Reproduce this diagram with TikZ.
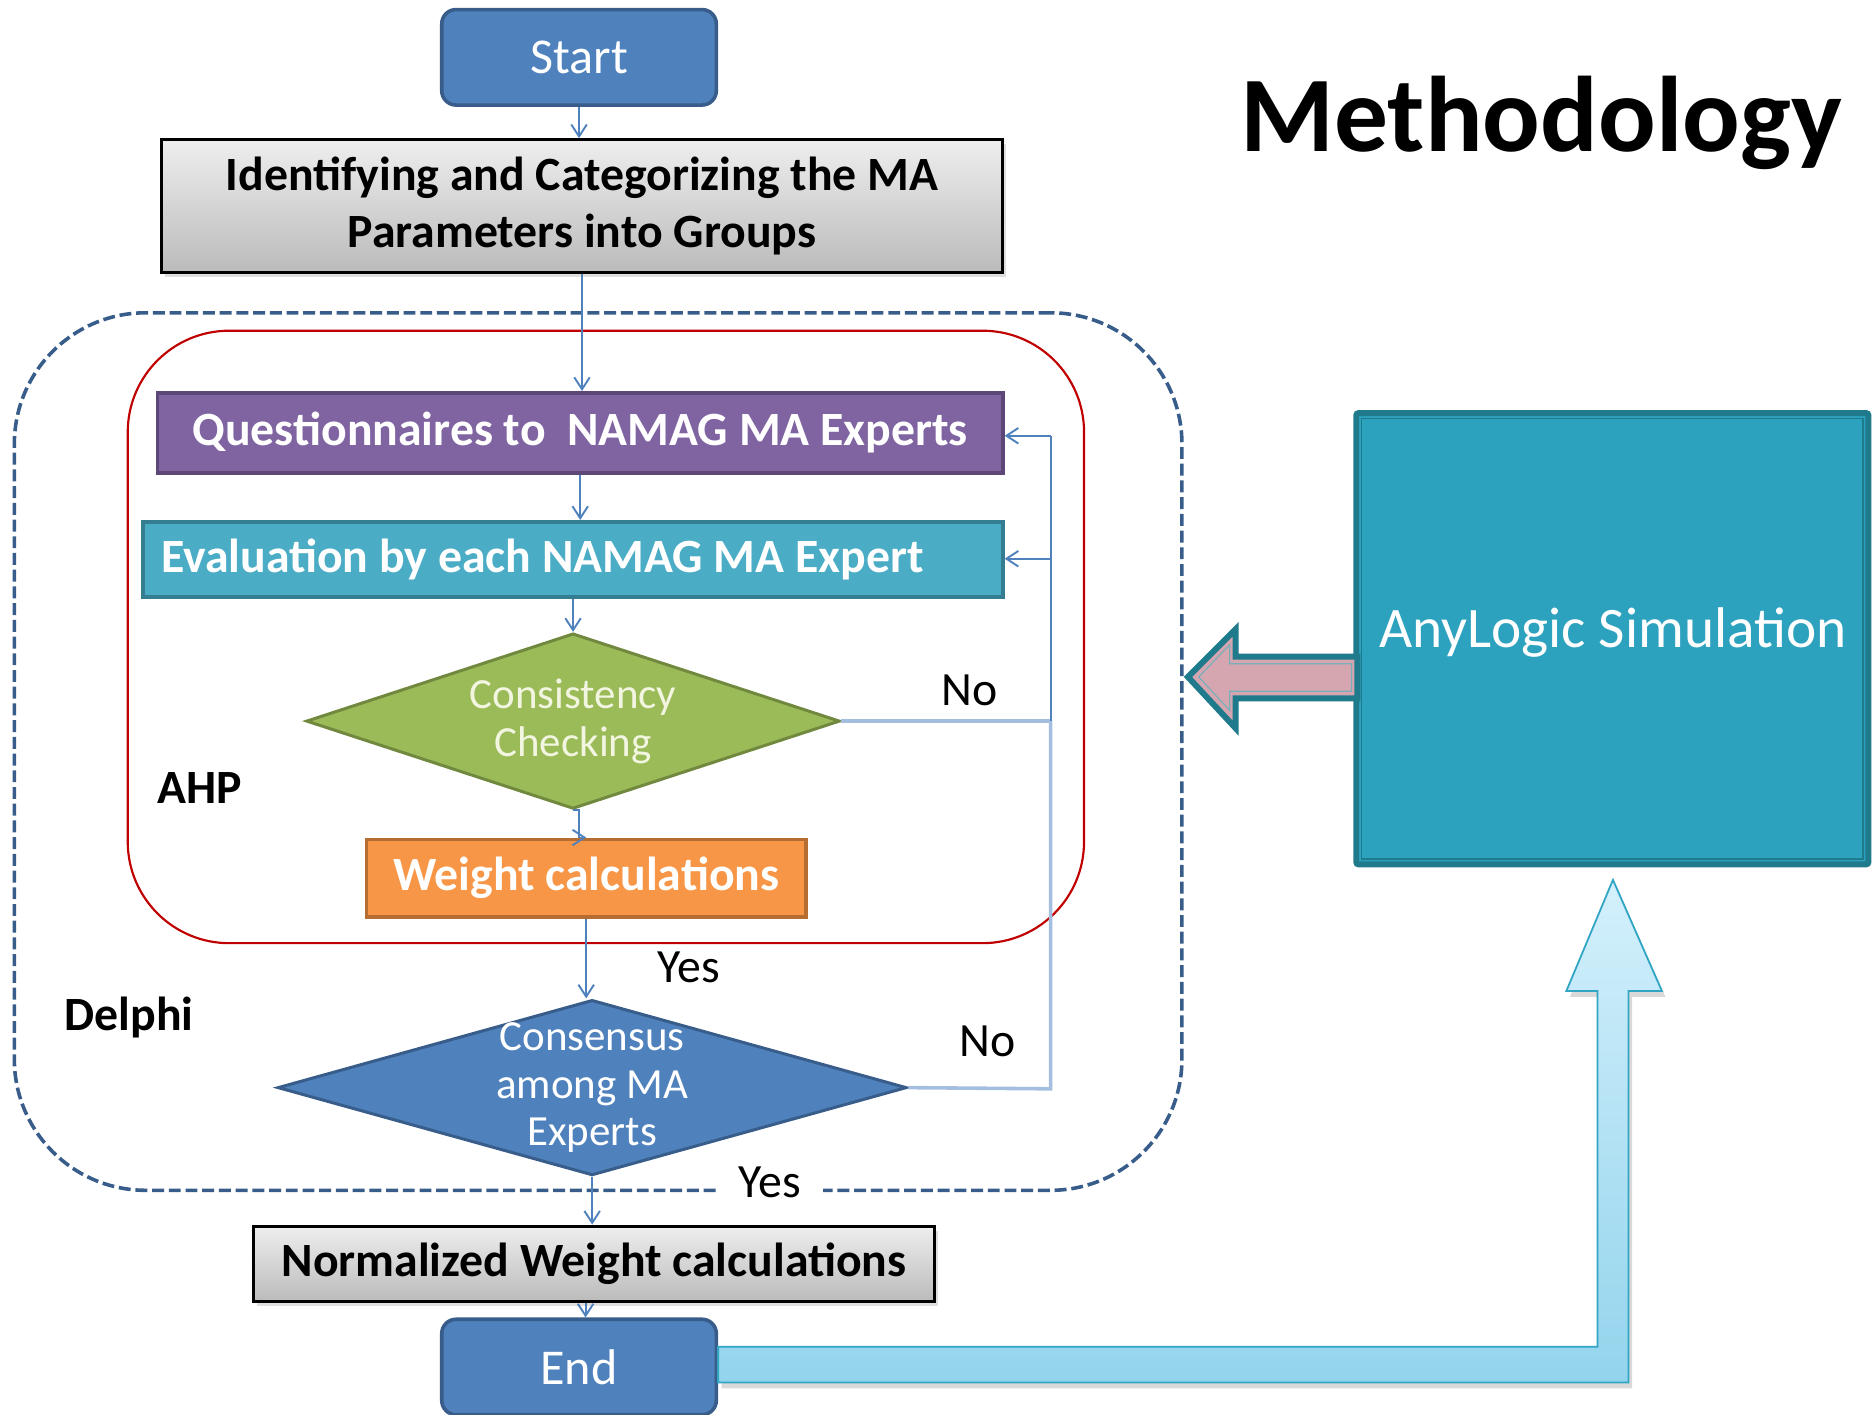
\documentclass[tikz,border=0pt]{standalone}
\usepackage{fontspec}
\setmainfont{Carlito}
\usetikzlibrary{arrows.meta,shapes.geometric,shadows,calc}
\definecolor{blueF}{HTML}{4F81BD}
\definecolor{blueD}{HTML}{385D8A}
\definecolor{purpleF}{HTML}{8064A2}
\definecolor{purpleD}{HTML}{5C4776}
\definecolor{aquaF}{HTML}{4BACC6}
\definecolor{aquaD}{HTML}{357D91}
\definecolor{greenF}{HTML}{9BBB59}
\definecolor{greenD}{HTML}{71893F}
\definecolor{orangeF}{HTML}{F79646}
\definecolor{orangeD}{HTML}{B66D31}
\definecolor{tealF}{HTML}{2DA2BF}
\definecolor{tealD}{HTML}{1F7A8C}
\definecolor{pinkF}{HTML}{D5A6B0}
\definecolor{lightT}{HTML}{D4F0FC}
\definecolor{lightB}{HTML}{93D4EC}
\definecolor{lightD}{HTML}{31A5C4}
\definecolor{fbL}{HTML}{A3BEDF}
\definecolor{redL}{HTML}{C00000}
\definecolor{grayT}{HTML}{EEEEEE}
\definecolor{grayB}{HTML}{BBBBBB}
\definecolor{consT}{HTML}{F2F5DF}
\begin{document}
\begin{tikzpicture}[x=1pt,y=-1pt,
  conn/.style={draw=blueF, line width=1.6pt, -{Straight Barb[length=10pt,width=13pt]}},
  fblight/.style={draw=fbL, line width=3pt},
  terminal/.style={rounded corners=12pt, fill=blueF, draw=blueD, line width=3pt,
    minimum width=230pt, minimum height=80pt, inner sep=0pt, text=white,
    font=\fontsize{42}{50}\selectfont},
  proc/.style={draw, line width=3pt, inner sep=0pt, text=white,
    font=\fontsize{40}{48}\selectfont\bfseries},
  graybox/.style={draw=black, line width=2.5pt, top color=grayT, bottom color=grayB,
    inner sep=0pt, text=black, align=center,
    font=\fontsize{40}{48}\selectfont\bfseries,
    drop shadow={shadow xshift=3pt, shadow yshift=-4pt, opacity=0.25}},
  dia/.style={diamond, line width=2.5pt, inner sep=0pt},
  dtext/.style={align=center, font=\fontsize{36}{40}\selectfont, inner sep=0pt},
  lbl/.style={font=\fontsize{40}{48}\selectfont, inner sep=2pt, text=black},
  blbl/.style={font=\fontsize{40}{48}\selectfont\bfseries, inner sep=2pt, text=black}
]
\useasboundingbox (0,0) rectangle (1568,1185);

% frames
\node[draw=blueD, line width=3pt, dash pattern=on 10pt off 4pt, rounded corners=110pt,
  minimum width=978pt, minimum height=735pt, inner sep=0pt] (delphibox) at (501,629.5) {};
\node[draw=redL, line width=1.8pt, rounded corners=85pt,
  minimum width=801pt, minimum height=513pt, inner sep=0pt] (ahpbox) at (507.5,533.5) {};

% title
\node[font=\fontsize{90}{100}\selectfont\bfseries, inner sep=0pt] (title) at (1291,103) {Methodology};

% main nodes
\node[terminal] (start) at (485,48) {Start};
\node[graybox, minimum width=705pt, minimum height=111pt] (ident) at (487.5,172.5)
  {Identifying and Categorizing the MA\\Parameters into Groups};
\node[proc, fill=purpleF, draw=purpleD, minimum width=708pt, minimum height=67pt] (quest) at (486,362.5)
  {Questionnaires to~~NAMAG MA Experts};
\node[proc, fill=aquaF, draw=aquaD, minimum width=720pt, minimum height=63pt] (eval) at (480,468.5)
  {\makebox[690pt][l]{Evaluation by each NAMAG MA Expert}};
\node[dia, fill=greenF, draw=greenD, minimum width=447pt, minimum height=147pt] (cons) at (480,604) {};
\node[dtext, text=consT] (constext) at (480,604) {Consistency\\Checking};
\node[proc, fill=orangeF, draw=orangeD, minimum width=368pt, minimum height=65pt] (weight) at (491,735.5)
  {Weight calculations};
\node[dia, fill=blueF, draw=blueD, minimum width=527pt, minimum height=147pt] (consensus) at (496,911) {};
\node[dtext, text=white] (consensustext) at (496,911) {Consensus\\among MA\\Experts};
\node[graybox, minimum width=571pt, minimum height=63pt] (norm) at (497.5,1058.5)
  {Normalized Weight calculations};
\node[terminal] (endn) at (485,1145) {End};

% labels
\node[blbl] (ahp) at (167,660) {AHP};
\node[blbl] (delphi) at (108,852) {Delphi};
\node[lbl] (no1) at (812,578) {No};
\node[lbl] (yes1) at (577,810) {Yes};
\node[lbl] (no2) at (827,872) {No};
\node[lbl, fill=white, inner xsep=18pt, inner ysep=0pt] (yes2) at (645,990) {Yes};

% connectors
\draw[conn] (start.south) -- (start.south |- ident.north);
\draw[conn] (ident.south) -- (ident.south |- quest.north);
\draw[conn] (quest.south) -- (quest.south |- eval.north);
\draw[conn] (eval.south) -- (eval.south |- cons.north);
\draw[conn] (cons.south) -- ($(cons.south)+(5,0)$) |- (weight.north);
\draw[conn] (weight.south) -- (weight.south |- consensus.north);
\draw[conn] (consensus.south) -- (consensus.south |- norm.north);
\draw[conn] ($(norm.south)+(-7,0)$) -- ($(norm.south |- endn.north)+(-7,0)$);

% feedback loops
\coordinate (fbtop) at (880,365);
\coordinate (fbmid) at (880,468);
\coordinate (fbc) at (880,604);
\coordinate (fbd) at (880,912);
\draw[fblight] (cons.east) -- (fbc);
\draw[fblight] (fbc) -- (fbd) -- (consensus.east);
\draw[draw=blueF, line width=1.6pt] (fbc) -- (fbtop);
\draw[conn] (fbtop) -- (quest.east |- fbtop);
\draw[conn] (fbmid) -- (eval.east |- fbmid);

% AnyLogic box
\node[fill=tealF, draw=tealD, line width=5pt, minimum width=429pt, minimum height=378pt,
  inner sep=0pt, rounded corners=2pt] (anylogic) at (1350.5,535) {};
\draw[tealD, line width=1.2pt] ($(anylogic.north west)+(7,7)$) rectangle ($(anylogic.south east)+(-7,-7)$);
\node[text=white, font=\fontsize{48}{56}\selectfont, inner sep=0pt] (anytext) at (1351,530) {AnyLogic Simulation};

% pink block arrow
\draw[fill=pinkF, draw=tealD, line width=5pt, line join=miter]
  (995,567) -- (1035,527) -- (1035,550) -- (1137,550) -- (1137,585) -- (1035,585) -- (1035,610) -- cycle;
\draw[draw=tealD!60!white, line width=1pt]
  (1004,567) -- (1030,540) -- (1030,556) -- (1132,556) -- (1132,579) -- (1030,579) -- (1030,595) -- cycle;

% light block arrow from End to AnyLogic
\draw[top color=lightT, bottom color=lightB, draw=lightD, line width=1.5pt,
  drop shadow={shadow xshift=3pt, shadow yshift=-5pt, opacity=0.3}]
  (endn.east |- 0,1128) -- (1338,1128) -- (1338,830) -- (1312,830) -- (1351,737)
  -- (1392,830) -- (1364,830) -- (1364,1158) -- (endn.east |- 0,1158) -- cycle;
\end{tikzpicture}
\end{document}
